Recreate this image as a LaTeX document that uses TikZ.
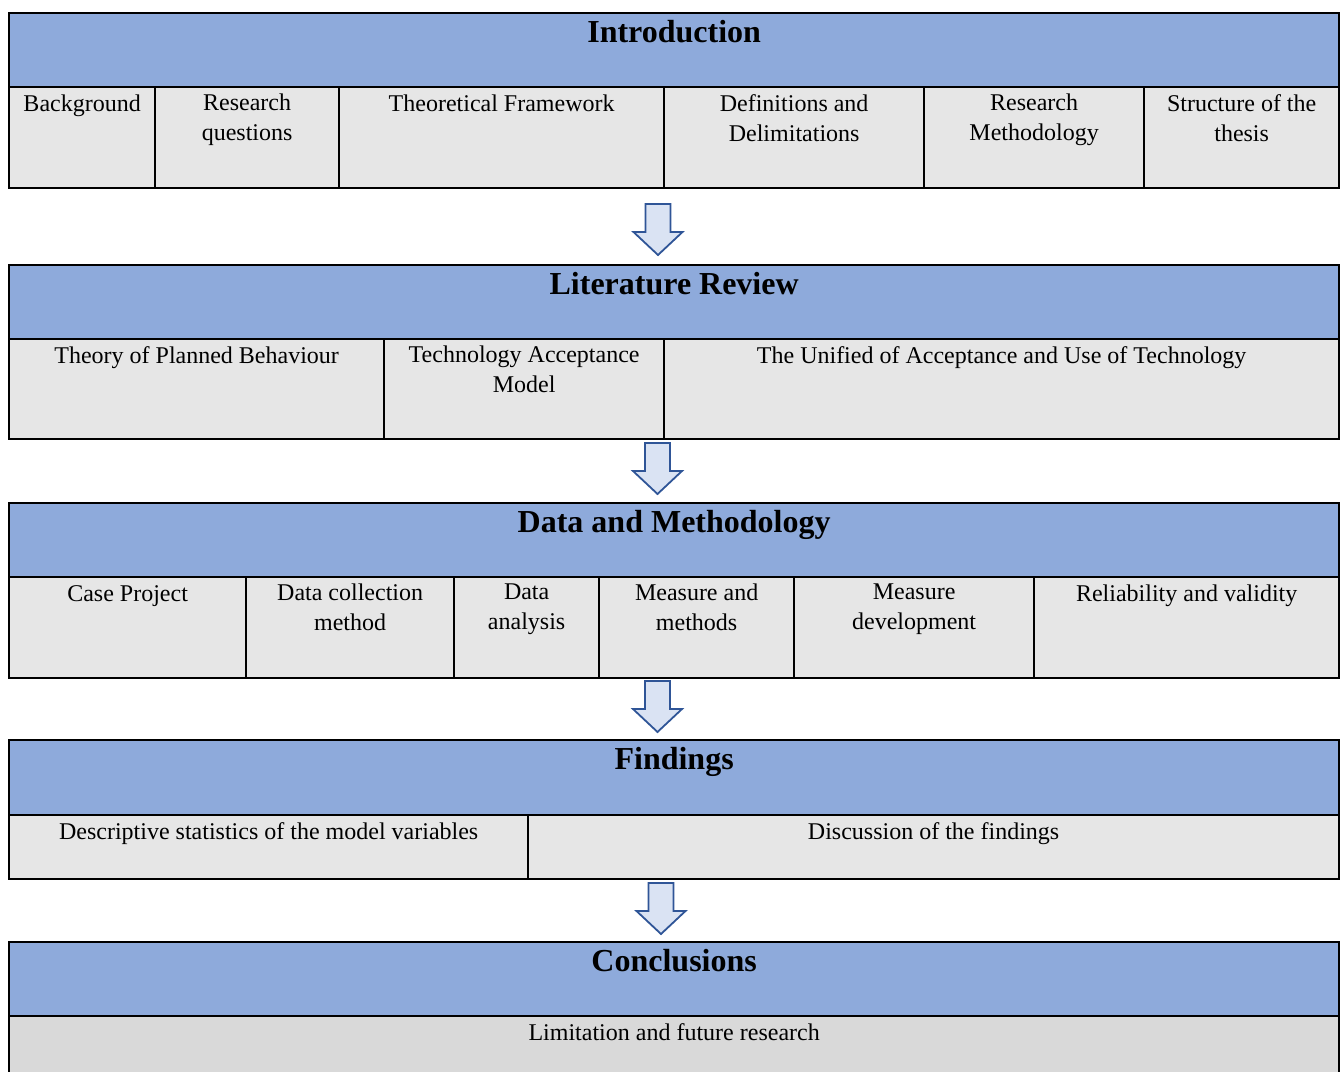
\documentclass[tikz,border=0pt]{standalone}
\usepackage{fontspec}
\setmainfont{Liberation Serif}
\definecolor{bandblue}{HTML}{8EAADB}
\definecolor{cellgray}{HTML}{E6E6E6}
\definecolor{lastgray}{HTML}{D9D9D9}
\definecolor{arrowfill}{HTML}{DAE3F3}
\definecolor{arrowline}{HTML}{2F5597}
\tikzset{
  band/.style={draw=black, line width=2.3pt, fill=bandblue, inner sep=0pt, anchor=north west},
  cellbox/.style={draw=black, line width=2.3pt, fill=cellgray, inner sep=0pt, anchor=north west},
  celltext/.style={anchor=north, inner sep=0pt, align=center,
    font=\fontsize{24}{30}\selectfont, execute at begin node=\strut},
  twolines/.style={yshift=-3.5pt},
  titletext/.style={anchor=north, inner sep=0pt,
    font=\fontsize{32}{38}\selectfont\bfseries, execute at begin node=\strut},
  arrowstyle/.style={draw=arrowline, fill=arrowfill, line width=1.8pt, line join=miter},
  blockdown/.pic={
    \draw[arrowstyle] (-12.5,0) -- (12.5,0) -- (12.5,28) -- (24.5,28) -- (0,51)
      -- (-24.5,28) -- (-12.5,28) -- cycle;
  }
}
% \sectionband{name}{top}{split}{title}
\newcommand\sectionband[4]{%
  \node[band, minimum width=1330pt, minimum height={#3-#2}] (#1) at (8,#2) {};
  \node[titletext] (#1t) at ([yshift=-4pt]#1.north) {#4};
}
% \cellpart[text style]{name}{left}{right}{top}{bottom}{text}
\newcommand\cellpart[7][]{%
  \node[cellbox, minimum width={#4-#3}, minimum height={#6-#5}] (#2) at (#3,#5) {};
  \node[celltext, #1] (#2t) at ([yshift=-4.5pt]#2.north) {#7};
}
\begin{document}
\begin{tikzpicture}[x=1pt, y=-1pt]
\useasboundingbox (0,0) rectangle (1344,1071);

% Introduction
\sectionband{intro}{12}{86}{Introduction}
\cellpart{ia}{8}{154}{86}{187}{Background}
\cellpart[twolines]{ib}{154}{338}{86}{187}{Research\\questions}
\cellpart{ic}{338}{663}{86}{187}{Theoretical Framework}
\cellpart[twolines]{id}{663}{923}{86}{187}{Definitions and\\Delimitations}
\cellpart[twolines]{ie}{923}{1143}{86}{187}{Research\\Methodology}
\cellpart[twolines]{if}{1143}{1338}{86}{187}{Structure of the\\thesis}

\pic (arrowA) at (658,204) {blockdown};

% Literature review
\sectionband{lit}{264}{338}{Literature Review}
\cellpart{la}{8}{383}{338}{438}{Theory of Planned Behaviour}
\cellpart[twolines]{lb}{383}{663}{338}{438}{Technology Acceptance\\Model}
\cellpart{lc}{663}{1338}{338}{438}{The Unified of Acceptance and Use of Technology}

\pic (arrowB) at (657.5,443) {blockdown};

% Data and methodology
\sectionband{data}{502}{576}{Data and Methodology}
\cellpart{da}{8}{245}{576}{677}{Case Project}
\cellpart[twolines]{db}{245}{453}{576}{677}{Data collection\\method}
\cellpart[twolines]{dc}{453}{598}{576}{677}{Data\\analysis}
\cellpart[twolines]{dd}{598}{793}{576}{677}{Measure and\\methods}
\cellpart[twolines]{de}{793}{1033}{576}{677}{Measure\\development}
\cellpart{df}{1033}{1338}{576}{677}{Reliability and validity}

\pic (arrowC) at (657.5,681) {blockdown};

% Findings
\sectionband{find}{739}{814}{Findings}
\cellpart{fa}{8}{527}{814}{878}{Descriptive statistics of the model variables}
\cellpart{fb}{527}{1338}{814}{878}{Discussion of the findings}

\pic (arrowD) at (661,883) {blockdown};

% Conclusions (the lower box runs past the page edge)
\sectionband{concl}{941}{1015}{Conclusions}
\node[cellbox, fill=lastgray, minimum width=1330pt, minimum height=70pt] (ca) at (8,1015) {};
\node[celltext] (cat) at ([yshift=-4.5pt]ca.north) {Limitation and future research};
\end{tikzpicture}
\end{document}
